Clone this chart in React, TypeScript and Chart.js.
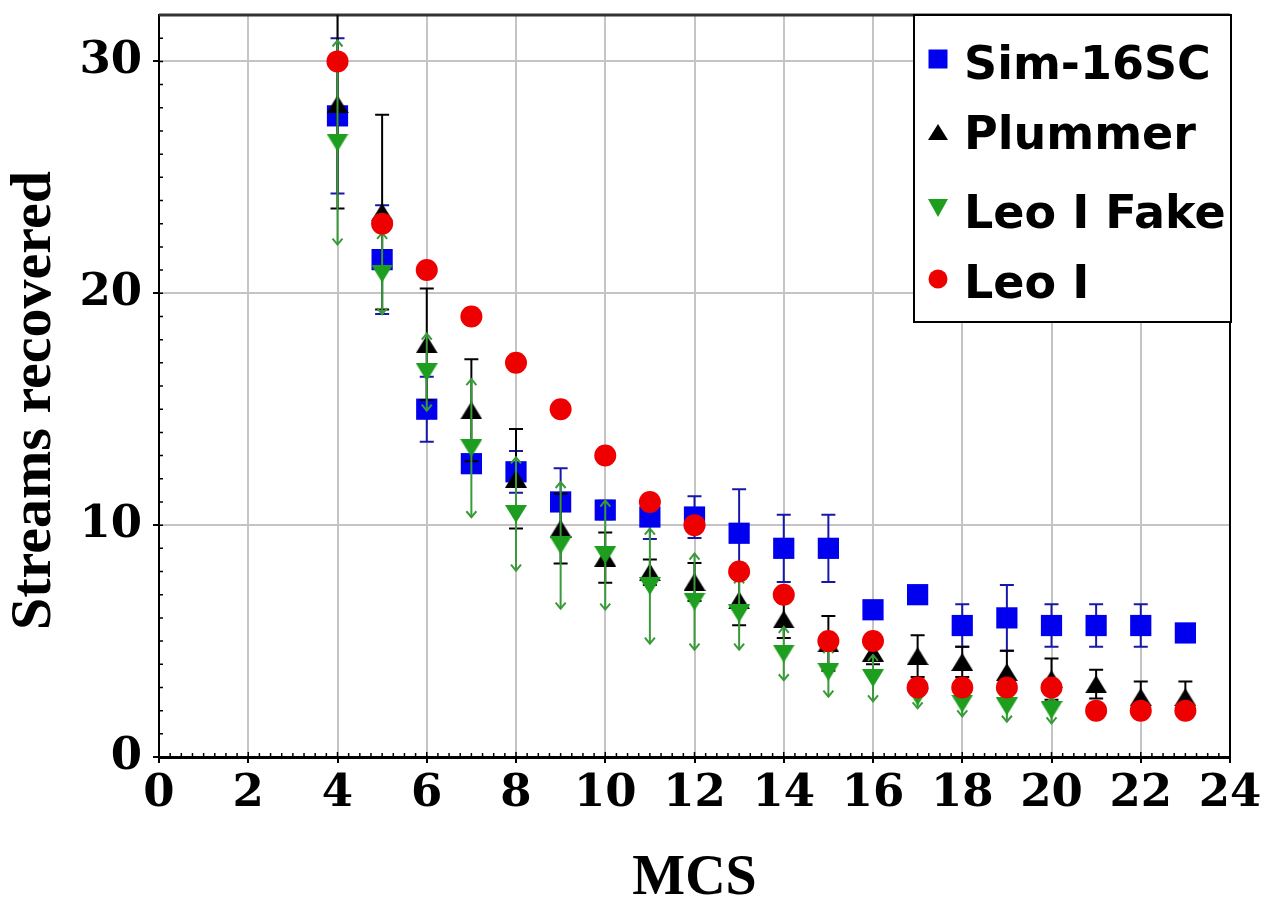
import React, { useEffect, useRef } from 'react';
import { Chart, registerables } from 'chart.js';

Chart.register(...registerables);

// ---- data ----
const mcs = [4, 5, 6, 7, 8, 9, 10, 11, 12, 13, 14, 15, 16, 17, 18, 19, 20, 21, 22, 23];
const fakeMcs = [4, 5, 6, 7, 8, 9, 10, 11, 12, 13, 14, 15, 16, 17, 18, 19, 20];

const simValues = [27.65, 21.45, 15.0, 12.65, 12.3, 11.0, 10.65, 10.35, 10.35, 9.65, 9.0, 9.0, 6.35, 7.0, 5.67, 6.0, 5.67, 5.67, 5.67, 5.35];
const simErrors = [3.35, 2.35, 1.4, 0, 0.9, 1.45, 0.4, 0.95, 0.9, 1.9, 1.45, 1.45, 0, 0, 0.92, 1.42, 0.92, 0.92, 0.92, 0];

const plummerValues = [28.15, 23.5, 17.8, 14.95, 12.0, 9.85, 8.6, 7.97, 7.55, 6.76, 5.93, 4.9, 4.5, 4.35, 4.1, 3.66, 3.36, 3.14, 2.58, 2.58];
const plummerErrors = [4.5, 4.2, 2.4, 2.2, 2.15, 1.5, 1.08, 0.55, 0.82, 1.08, 0.8, 1.18, 0.5, 0.9, 0.65, 0.92, 0.89, 0.62, 0.68, 0.68];

const fakeValues = [26.5, 20.85, 16.6, 13.32, 10.48, 9.13, 8.71, 7.37, 6.7, 6.19, 4.46, 3.67, 3.4, 2.6, 2.3, 2.18, 2.02];
const fakeErrors = [4.4, 1.75, 1.66, 2.98, 2.44, 2.73, 2.35, 2.48, 2.07, 1.56, 1.15, 1.07, 1.0, 0.5, 0.55, 0.66, 0.57];

const leoValues = [30, 23, 21, 19, 17, 15, 13, 11, 10, 8, 7, 5, 5, 3, 3, 3, 3, 2, 2, 2];

const seriesLabels = ['Sim-16SC', 'Plummer', 'Leo I Fake', 'Leo I'];
const xTickStep = 2;
const yTickStep = 10;

const BLUE = '#0000ee';
const BLACK = '#000000';
const GREEN = '#1e9e1e';
const RED = '#ee0000';

function makeTriangle(w: number, h: number, color: string, down: boolean): HTMLCanvasElement {
  const c = document.createElement('canvas');
  c.width = w;
  c.height = h;
  const g = c.getContext('2d')!;
  g.fillStyle = color;
  g.beginPath();
  if (down) {
    g.moveTo(0, 0);
    g.lineTo(w, 0);
    g.lineTo(w / 2, h);
  } else {
    g.moveTo(w / 2, 0);
    g.lineTo(w, h);
    g.lineTo(0, h);
  }
  g.closePath();
  g.fill();
  return c;
}

const toPoints = (xs: number[], ys: number[]) => xs.map((x, i) => ({ x, y: ys[i] }));

export default function App() {
  const ref = useRef<HTMLCanvasElement | null>(null);

  useEffect(() => {
    if (!ref.current) return;
    const upTri = makeTriangle(22, 18, BLACK, false);
    const downTri = makeTriangle(22, 18, GREEN, true);
    const upTriLeg = makeTriangle(20, 16, BLACK, false);
    const downTriLeg = makeTriangle(20, 18, GREEN, true);

    // error specs per dataset index
    const errorSpecs: any[] = [
      { errors: simErrors, color: '#1818a8', width: 2, cap: 'bar' },
      { errors: plummerErrors, color: '#000000', width: 2, cap: 'bar' },
      { errors: fakeErrors, color: '#3a9a3a', width: 2, cap: 'arrow' },
      null,
    ];

    const errorBarPlugin = {
      id: 'errorBars',
      beforeDatasetDraw(chart: any, args: any) {
        const spec = errorSpecs[args.index];
        if (!spec) return;
        const ds = chart.data.datasets[args.index];
        const { ctx, chartArea } = chart;
        const xs = chart.scales.x;
        const ys = chart.scales.y;
        ctx.save();
        ctx.beginPath();
        ctx.rect(chartArea.left, chartArea.top, chartArea.right - chartArea.left, chartArea.bottom - chartArea.top);
        ctx.clip();
        ctx.strokeStyle = spec.color;
        ctx.lineWidth = spec.width;
        ds.data.forEach((p: any, i: number) => {
          const e = spec.errors[i];
          if (!e) return;
          const px = xs.getPixelForValue(p.x);
          const top = ys.getPixelForValue(p.y + e);
          const bot = ys.getPixelForValue(p.y - e);
          ctx.beginPath();
          ctx.moveTo(px, top);
          ctx.lineTo(px, bot);
          ctx.stroke();
          ctx.beginPath();
          if (spec.cap === 'arrow') {
            ctx.moveTo(px - 5, top + 6);
            ctx.lineTo(px, top);
            ctx.lineTo(px + 5, top + 6);
            ctx.moveTo(px - 5, bot - 6);
            ctx.lineTo(px, bot);
            ctx.lineTo(px + 5, bot - 6);
          } else {
            ctx.moveTo(px - 7, top);
            ctx.lineTo(px + 7, top);
            ctx.moveTo(px - 7, bot);
            ctx.lineTo(px + 7, bot);
          }
          ctx.stroke();
        });
        ctx.restore();
      },
    };

    const framePlugin = {
      id: 'frame',
      beforeDatasetsDraw(chart: any) {
        const { ctx, chartArea } = chart;
        const xs = chart.scales.x;
        const ys = chart.scales.y;
        ctx.save();
        // minor ticks on x axis (inside)
        ctx.strokeStyle = '#000';
        ctx.lineWidth = 1.5;
        ctx.beginPath();
        for (let v = 0; v <= 24.001; v += 0.25) {
          const px = xs.getPixelForValue(v);
          const isMajor = Math.abs(v / xTickStep - Math.round(v / xTickStep)) < 1e-6;
          ctx.moveTo(px, chartArea.bottom);
          ctx.lineTo(px, chartArea.bottom - (isMajor ? 5 : 4));
        }
        for (let v = 0; v <= 32.001; v += 1) {
          const py = ys.getPixelForValue(v);
          ctx.moveTo(chartArea.left, py);
          ctx.lineTo(chartArea.left + 4, py);
        }
        ctx.stroke();
        // top border
        ctx.strokeStyle = '#333';
        ctx.lineWidth = 3;
        ctx.beginPath();
        ctx.moveTo(chartArea.left, chartArea.top);
        ctx.lineTo(chartArea.right, chartArea.top);
        ctx.stroke();
        // right border
        ctx.strokeStyle = '#000';
        ctx.lineWidth = 2;
        ctx.beginPath();
        ctx.moveTo(chartArea.right, chartArea.top);
        ctx.lineTo(chartArea.right, chartArea.bottom);
        ctx.stroke();
        ctx.restore();
      },
    };

    const legendPlugin = {
      id: 'boxLegend',
      afterDraw(chart: any) {
        const { ctx, chartArea } = chart;
        const right = chartArea.right + 1;
        const left = right - 317;
        const top = chartArea.top;
        const bottom = top + 307;
        ctx.save();
        ctx.fillStyle = '#fff';
        ctx.fillRect(left, top, right - left, bottom - top);
        ctx.strokeStyle = '#000';
        ctx.lineWidth = 2;
        ctx.strokeRect(left, top, right - left, bottom - top);
        const markerY = [44, 117, 193, 264];
        const baseY = [64, 134, 213, 283];
        const mx = left + 24;
        seriesLabels.forEach((label, i) => {
          const my = top + markerY[i];
          if (i === 0) {
            ctx.fillStyle = BLUE;
            ctx.fillRect(mx - 9.5, my - 9.5, 19, 19);
          } else if (i === 1) {
            ctx.drawImage(upTriLeg, mx - 10, my - 8);
          } else if (i === 2) {
            ctx.drawImage(downTriLeg, mx - 10, my - 9);
          } else {
            ctx.fillStyle = RED;
            ctx.beginPath();
            ctx.arc(mx, my, 9.5, 0, Math.PI * 2);
            ctx.fill();
          }
          ctx.fillStyle = '#000';
          ctx.font = 'bold 46px "DejaVu Sans"';
          ctx.textAlign = 'left';
          ctx.textBaseline = 'alphabetic';
          ctx.fillText(label, left + 50, top + baseY[i]);
        });
        ctx.restore();
      },
    };

    const tickFont = { family: '"DejaVu Serif"', weight: 'bold' as const, size: 45, lineHeight: 1.2 };

    const chart = new Chart(ref.current, {
      type: 'scatter',
      data: {
        datasets: [
          {
            label: seriesLabels[0],
            data: toPoints(mcs, simValues),
            pointStyle: 'rect',
            pointRadius: 15,
            backgroundColor: BLUE,
            borderColor: BLUE,
            borderWidth: 0,
            order: 4,
          },
          {
            label: seriesLabels[1],
            data: toPoints(mcs, plummerValues),
            pointStyle: upTri as any,
            pointRadius: 10,
            backgroundColor: BLACK,
            borderColor: BLACK,
            borderWidth: 0,
            order: 3,
          },
          {
            label: seriesLabels[2],
            data: toPoints(fakeMcs, fakeValues),
            pointStyle: downTri as any,
            pointRadius: 10,
            backgroundColor: GREEN,
            borderColor: GREEN,
            borderWidth: 0,
            order: 2,
          },
          {
            label: seriesLabels[3],
            data: toPoints(mcs, leoValues),
            pointStyle: 'circle',
            pointRadius: 11,
            backgroundColor: RED,
            borderColor: RED,
            borderWidth: 0,
            order: 1,
          },
        ],
      },
      options: {
        animation: false,
        responsive: false,
        devicePixelRatio: 1,
        layout: { padding: { left: 0, top: 14, right: 38, bottom: 0 } },
        plugins: { legend: { display: false }, tooltip: { enabled: false } },
        scales: {
          x: {
            type: 'linear',
            min: 0,
            max: 24,
            afterFit: (s: any) => {
              s.height = 144;
              s.paddingLeft = 0;
              s.paddingRight = 0;
            },
            ticks: {
              stepSize: xTickStep,
              includeBounds: false,
              autoSkip: false,
              maxRotation: 0,
              padding: 4,
              color: '#000',
              font: tickFont,
            },
            grid: { color: '#c4c4c4', lineWidth: 2, tickLength: 6, tickColor: '#000', tickWidth: 2 },
            border: { display: true, color: '#000', width: 3 },
            title: {
              display: true,
              text: 'MCS',
              color: '#000',
              font: { family: '"Liberation Serif"', weight: 'bold', size: 56, lineHeight: 0.76 },
              padding: 0,
            },
          },
          y: {
            type: 'linear',
            min: 0,
            max: 32,
            afterFit: (s: any) => {
              s.width = 159;
              s.paddingTop = 0;
              s.paddingBottom = 0;
            },
            ticks: {
              stepSize: yTickStep,
              includeBounds: false,
              padding: 11,
              color: '#000',
              font: tickFont,
            },
            grid: { color: '#c4c4c4', lineWidth: 2, tickLength: 6, tickColor: '#000', tickWidth: 2 },
            border: { display: true, color: '#000', width: 2 },
            title: {
              display: true,
              text: 'Streams recovered  ',
              color: '#000',
              font: { family: '"Liberation Serif"', weight: 'bold', size: 58, lineHeight: 1.0 },
              padding: { top: 6, bottom: 0 },
            },
          },
        },
      } as any,
      plugins: [framePlugin, errorBarPlugin, legendPlugin],
    });

    return () => chart.destroy();
  }, []);

  return (
    <div style={{ position: 'fixed', left: 0, top: 0, width: 1268, height: 901, background: '#fff' }}>
      <canvas ref={ref} width={1268} height={901} style={{ display: 'block' }} />
    </div>
  );
}
